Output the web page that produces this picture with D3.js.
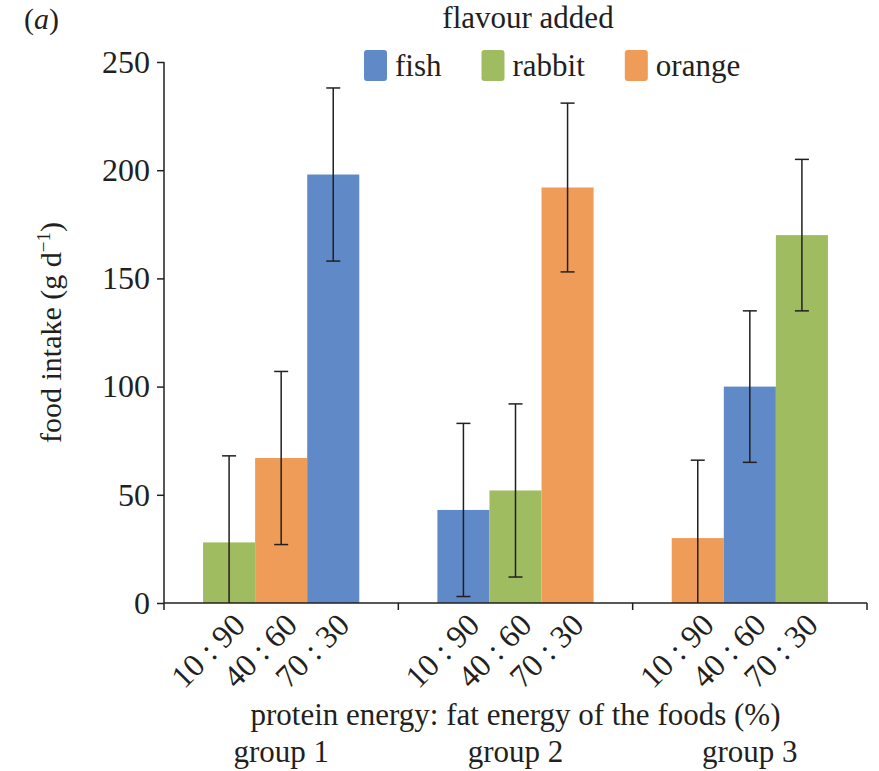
<!DOCTYPE html>
<html>
<head>
<meta charset="utf-8">
<script src="https://cdn.jsdelivr.net/npm/d3@7"></script>
<style>
  body { margin: 0; background: #fff; }
  text { font-family: "Liberation Serif", "Times New Roman", serif; fill: #231f20; }
</style>
</head>
<body>
<div id="chart"></div>
<script>
// Data
const groups = ["group 1", "group 2", "group 3"];
const ratios = ["10 : 90", "40 : 60", "70 : 30"];
const flavours = ["fish", "rabbit", "orange"];
// flavour of each bar, per group
const barFlavours = [
    ["rabbit", "orange", "fish"],
    ["fish", "rabbit", "orange"],
    ["orange", "fish", "rabbit"]
];
const intake = [
    [28, 67, 198],
    [43, 52, 192],
    [30, 100, 170]
];
const errors = [
    [40, 40, 40],
    [40, 40, 39],
    [36, 35, 35]
];
const yTicks = [0, 50, 100, 150, 200, 250];

// Set dimensions
const width = 879;
const height = 771;
const margin = { top: 62, right: 12, bottom: 168, left: 164 };

const svg = d3.select("#chart").append("svg")
    .attr("width", width)
    .attr("height", height);

const color = d3.scaleOrdinal()
    .domain(flavours)
    .range(["#5f8ac7", "#9fbc60", "#ef9c58"]);

const x0 = d3.scaleBand()
    .domain(groups)
    .range([margin.left, width - margin.right]);

const x1 = d3.scaleBand()
    .domain(ratios)
    .range([0, x0.bandwidth()])
    .paddingInner(0)
    .paddingOuter(0.75);

const y = d3.scaleLinear()
    .domain([0, 250])
    .range([height - margin.bottom, margin.top]);

// Build flat table of bars
const bars = [];
groups.forEach((g, gi) => {
    ratios.forEach((r, ri) => {
        bars.push({
            group: g, ratio: r,
            flavour: barFlavours[gi][ri],
            value: intake[gi][ri],
            err: errors[gi][ri]
        });
    });
});

// Bars
svg.append("g").selectAll("rect")
    .data(bars)
    .enter().append("rect")
    .attr("x", d => x0(d.group) + x1(d.ratio))
    .attr("y", d => y(d.value))
    .attr("width", x1.bandwidth())
    .attr("height", d => y(0) - y(d.value))
    .attr("fill", d => color(d.flavour));

// Error bars
const errG = svg.append("g").attr("stroke", "#231f20").attr("stroke-width", 1.5);
const cx = d => x0(d.group) + x1(d.ratio) + x1.bandwidth() / 2;
const lo = d => Math.max(0, d.value - d.err);
const hi = d => d.value + d.err;

errG.selectAll(".stem")
    .data(bars)
    .enter().append("line")
    .attr("x1", cx).attr("x2", cx)
    .attr("y1", d => y(lo(d)))
    .attr("y2", d => y(hi(d)));

errG.selectAll(".capHi")
    .data(bars)
    .enter().append("line")
    .attr("x1", d => cx(d) - 7).attr("x2", d => cx(d) + 7)
    .attr("y1", d => y(hi(d))).attr("y2", d => y(hi(d)));

errG.selectAll(".capLo")
    .data(bars.filter(d => d.value - d.err > 0))
    .enter().append("line")
    .attr("x1", d => cx(d) - 7).attr("x2", d => cx(d) + 7)
    .attr("y1", d => y(lo(d))).attr("y2", d => y(lo(d)));

// Y axis
const yAxis = svg.append("g")
    .attr("transform", `translate(${margin.left},0)`)
    .call(d3.axisLeft(y).tickValues(yTicks).tickSize(7).tickPadding(7));
yAxis.select(".domain").attr("d", `M0,${y(250)}V${y(0)}`);
yAxis.selectAll("line, path").attr("stroke", "#231f20").attr("stroke-width", 1.5);
yAxis.selectAll("text")
    .attr("font-size", 32)
    .attr("fill", "#231f20");

// X axis (ticks at group boundaries)
const xAxis = svg.append("g").attr("stroke", "#231f20").attr("stroke-width", 1.5);
xAxis.append("line")
    .attr("x1", margin.left).attr("x2", width - margin.right)
    .attr("y1", y(0)).attr("y2", y(0));
xAxis.selectAll(".tick")
    .data(groups.concat(["end"]))
    .enter().append("line")
    .attr("x1", (d, i) => i < groups.length ? x0(d) : x0.range()[1])
    .attr("x2", (d, i) => i < groups.length ? x0(d) : x0.range()[1])
    .attr("y1", y(0)).attr("y2", y(0) + 7);

// Rotated ratio labels
svg.append("g").selectAll("text")
    .data(bars)
    .enter().append("text")
    .attr("transform", d => `translate(${cx(d) + 18},${y(0) + 24}) rotate(-45)`)
    .attr("text-anchor", "end")
    .attr("font-size", 32)
    .text(d => d.ratio);

// Axis titles
svg.append("text")
    .attr("x", x0.range()[0] + (x0.range()[1] - x0.range()[0]) / 2)
    .attr("y", 725)
    .attr("text-anchor", "middle")
    .attr("font-size", 31)
    .text("protein energy: fat energy of the foods (%)");

svg.append("g").selectAll("text")
    .data(groups)
    .enter().append("text")
    .attr("x", d => x0(d) + x0.bandwidth() / 2)
    .attr("y", 762)
    .attr("text-anchor", "middle")
    .attr("font-size", 31)
    .text(d => d);

const yTitle = svg.append("text")
    .attr("transform", `translate(61,${(y(0) + y(250)) / 2}) rotate(-90)`)
    .attr("text-anchor", "middle")
    .attr("font-size", 30);
yTitle.append("tspan").text("food intake (g d");
yTitle.append("tspan").attr("font-size", 19).attr("dy", -11).text("\u22121");
yTitle.append("tspan").attr("dy", 11).text(")");

// Panel label
const panel = svg.append("text").attr("x", 24).attr("y", 29).attr("font-size", 30);
panel.append("tspan").text("(");
panel.append("tspan").attr("font-style", "italic").text("a");
panel.append("tspan").text(")");

// Legend
svg.append("text")
    .attr("x", 528)
    .attr("y", 28)
    .attr("text-anchor", "middle")
    .attr("font-size", 31)
    .text("flavour added");

let lx = 364;
flavours.forEach(f => {
    svg.append("rect")
        .attr("x", lx).attr("y", 50)
        .attr("width", 23).attr("height", 31)
        .attr("rx", 3)
        .attr("fill", color(f));
    const t = svg.append("text")
        .attr("x", lx + 31).attr("y", 76)
        .attr("font-size", 31)
        .text(f);
    lx += 31 + t.node().getComputedTextLength() + 40;
});
</script>
</body>
</html>
